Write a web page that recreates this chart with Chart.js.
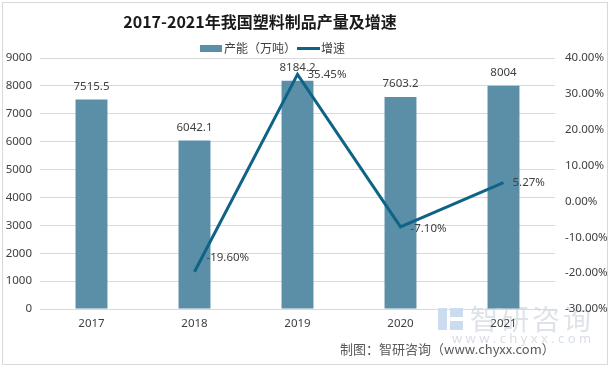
<!DOCTYPE html>
<html>
<head>
<meta charset="utf-8">
<script src="https://cdn.jsdelivr.net/npm/chart.js@4/dist/chart.umd.min.js"></script>
<style>
  html, body { margin: 0; padding: 0; background: #fff; }
  canvas { display: block; }
</style>
</head>
<body>
<canvas id="chart" width="610" height="368"></canvas>
<script>
"use strict"

// data
var years = ["2017", "2018", "2019", "2020", "2021"];
var output = [7515.5, 6042.1, 8184.2, 7603.2, 8004];
var growth = [null, -19.60, 35.45, -7.10, 5.27];
var outputLabel = "产能（万吨）";
var growthLabel = "增速";
var titleText = "2017-2021年我国塑料制品产量及增速";
var sourceText = "制图：智研咨询（www.chyxx.com）";

var barColor = "#5b8fa8";
var lineColor = "#0e6387";
var textColor = "#404040";
var gridColor = "#d9d9d9";
var numFont = "'Noto Sans', 'Noto Sans CJK SC', sans-serif";
var cjkFont = "'Noto Sans CJK SC', sans-serif";

// where each growth label sits relative to its point
var lineLabelOffset = [null, [12, -14], [10, 0], [10, 2], [9, 0]];

var extras = {
    id: "extras",
    beforeDraw: function (chart) {
        var ctx = chart.ctx;
        ctx.save();
        ctx.fillStyle = "#fff";
        ctx.fillRect(0, 0, chart.width, chart.height);
        ctx.strokeStyle = gridColor;
        ctx.lineWidth = 1;
        ctx.strokeRect(2.5, 2.5, 605, 362);

        // watermark
        ctx.fillStyle = "rgba(190,200,212,0.5)";
        ctx.font = "28px " + cjkFont;
        ctx.textBaseline = "middle";
        ctx.textAlign = "left";
        ctx.letterSpacing = "3px";
        ctx.fillText("智研咨询", 470, 319);
        ctx.letterSpacing = "0px";
        ctx.fillStyle = "rgba(150,185,220,0.5)";
        ctx.fillRect(438, 308, 9, 22);
        ctx.fillRect(450, 308, 13, 9);
        ctx.fillRect(450, 321, 13, 9);
        ctx.fillStyle = "rgba(190,200,212,0.6)";
        ctx.font = "13px " + numFont;
        ctx.fillText("w w w . c h y x x . c o m", 452, 339);
        ctx.restore();
    },
    afterDraw: function (chart) {
        var ctx = chart.ctx;
        ctx.save();
        // title
        ctx.fillStyle = "#1a1a1a";
        ctx.font = "bold 16px " + cjkFont;
        ctx.textAlign = "center";
        ctx.textBaseline = "middle";
        ctx.fillText(titleText, 260, 22);

        // legend
        ctx.font = "12px " + cjkFont;
        ctx.textAlign = "left";
        ctx.fillStyle = barColor;
        ctx.fillRect(200, 45, 22, 7);
        ctx.fillStyle = textColor;
        ctx.fillText(outputLabel, 224, 48);
        ctx.strokeStyle = lineColor;
        ctx.lineWidth = 3;
        ctx.beginPath();
        ctx.moveTo(297, 48.5);
        ctx.lineTo(320, 48.5);
        ctx.stroke();
        ctx.fillText(growthLabel, 321, 48);

        // source
        ctx.fillStyle = "#595959";
        ctx.font = "13px " + cjkFont;
        ctx.fillText(sourceText, 340, 349);
        ctx.restore();
    },
    afterDatasetsDraw: function (chart) {
        var ctx = chart.ctx;
        ctx.save();
        ctx.font = "11.5px " + numFont;
        ctx.fillStyle = textColor;
        ctx.textBaseline = "middle";

        var bars = chart.getDatasetMeta(0).data;
        ctx.textAlign = "center";
        bars.forEach(function (bar, i) {
            ctx.fillText(String(output[i]), bar.x, bar.y - 13);
        });

        var pts = chart.getDatasetMeta(1).data;
        ctx.textAlign = "left";
        pts.forEach(function (p, i) {
            if (growth[i] === null) return;
            var off = lineLabelOffset[i];
            ctx.fillText(growth[i].toFixed(2) + "%", p.x + off[0], p.y + off[1]);
        });
        ctx.restore();
    }
};

new Chart(document.getElementById("chart"), {
    type: "bar",
    data: {
        labels: years,
        datasets: [
            {
                label: outputLabel,
                data: output,
                backgroundColor: barColor,
                yAxisID: "y",
                barPercentage: 0.31,
                categoryPercentage: 1,
                order: 2
            },
            {
                type: "line",
                label: growthLabel,
                data: growth,
                borderColor: lineColor,
                backgroundColor: lineColor,
                borderWidth: 3,
                pointRadius: 0,
                tension: 0,
                yAxisID: "y1",
                order: 1
            }
        ]
    },
    options: {
        responsive: false,
        animation: false,
        devicePixelRatio: 1,
        layout: { padding: { top: 58, left: 0, right: 0, bottom: 0 } },
        plugins: {
            legend: { display: false },
            title: { display: false },
            tooltip: { enabled: false }
        },
        scales: {
            x: {
                offset: true,
                grid: { display: false, drawTicks: false },
                border: { display: true, color: gridColor },
                ticks: { color: textColor, font: { family: numFont, size: 11.5 }, padding: 8 },
                afterFit: function (s) { s.height = 59; }
            },
            y: {
                position: "left",
                min: 0,
                max: 9000,
                grid: { color: gridColor, drawTicks: false },
                border: { display: false },
                ticks: {
                    stepSize: 1000,
                    color: textColor,
                    font: { family: numFont, size: 11.5 },
                    padding: 8,
                    callback: function (v) { return String(v); }
                },
                afterFit: function (s) { s.width = 40; }
            },
            y1: {
                position: "right",
                min: -30,
                max: 40,
                grid: { display: false, drawTicks: false },
                border: { display: false },
                ticks: {
                    stepSize: 10,
                    color: textColor,
                    font: { family: numFont, size: 11.5 },
                    padding: 10,
                    callback: function (v) { return v.toFixed(2) + "%"; }
                },
                afterFit: function (s) { s.width = 55; }
            }
        }
    },
    plugins: [extras]
});
</script>
</body>
</html>
